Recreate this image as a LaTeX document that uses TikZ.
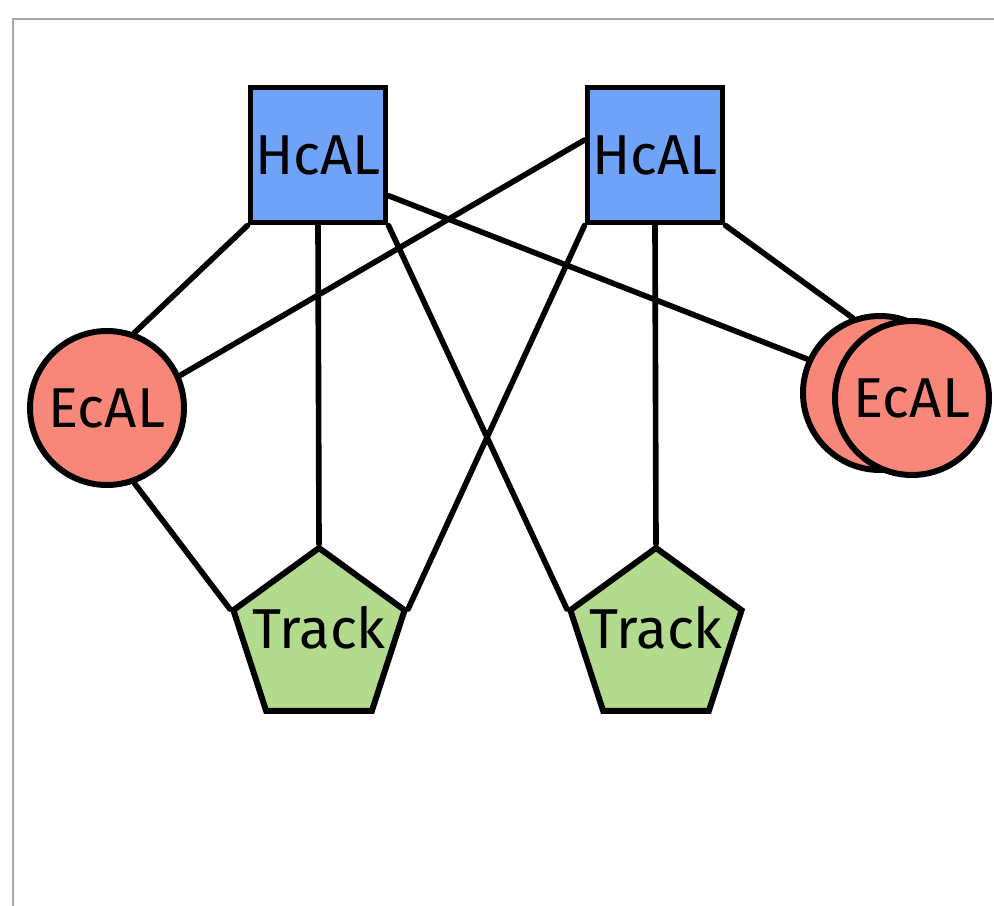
\documentclass[tikz,border=0pt]{standalone}
\usepackage{fontspec}
\setmainfont{Fira Sans}
\usepackage{tikz}
\usetikzlibrary{shapes.geometric}

\definecolor{hcalblue}{RGB}{110,163,248}
\definecolor{ecalred}{RGB}{248,135,122}
\definecolor{trackgreen}{RGB}{178,219,142}

\begin{document}
\begin{tikzpicture}[
	bigtext/.style={font=\fontsize{32}{36}\selectfont},
	hcal/.style={draw=black, line width=3.4pt, fill=hcalblue, rectangle, minimum size=2.7cm, inner sep=0pt, bigtext},
	ecal/.style={draw=black, line width=3.4pt, fill=ecalred, circle, minimum size=3.08cm, inner sep=0pt, bigtext},
	track/.style={draw=black, line width=3.4pt, fill=trackgreen, regular polygon, regular polygon sides=5, minimum size=3.6cm, inner sep=0pt},
	link/.style={draw=black, line width=3.2pt, line cap=round}
]
	% Page size and frame
	\useasboundingbox (0,0) rectangle (19.88,18.12);
	\coordinate (framebl) at (0.26,0);
	\coordinate (frametl) at (0.26,17.74);
	\coordinate (frametr) at (19.88,17.74);
	\draw[gray!70, line width=0.6pt] (framebl) -- (frametl) -- (frametr);

	% HcAL boxes
	\node[hcal] (h1) at (6.36,15.02) {HcAL};
	\node[hcal] (h2) at (13.10,15.02) {HcAL};

	% EcAL circles (right one is a stack of two)
	\node[ecal] (e1) at (2.14,9.96) {EcAL};
	\node[ecal] (e2b) at (17.60,10.26) {};
	\node[ecal] (e2) at (18.24,10.16) {EcAL};

	% Track pentagons
	\node[track, label={[bigtext, yshift=0.2cm]center:Track}] (t1) at (6.38,5.36) {};
	\node[track, label={[bigtext, yshift=0.2cm]center:Track}] (t2) at (13.12,5.36) {};

	% Links from the first HcAL
	\draw[link] (h1.south west) -- (e1.70);
	\draw[link] (h1.south) -- (t1.corner 1);
	\draw[link] (h1.south east) -- (t2.corner 2);
	\draw[link] (h1.-30) -- (e2b.155);

	% Links from the second HcAL
	\draw[link] (h2.168) -- (e1.24);
	\draw[link] (h2.south west) -- (t1.corner 5);
	\draw[link] (h2.south) -- (t2.corner 1);
	\draw[link] (h2.south east) -- (e2b.110);

	% EcAL to Track
	\draw[link] (e1.-70) -- (t1.corner 2);

\end{tikzpicture}
\end{document}
